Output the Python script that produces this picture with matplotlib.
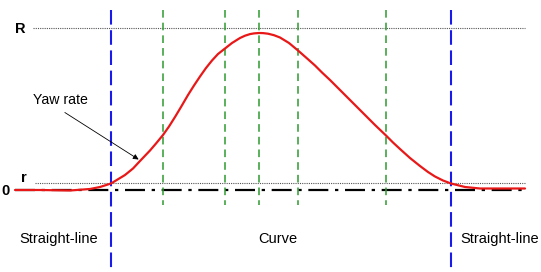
import numpy as np
import matplotlib
matplotlib.use('Agg')
import matplotlib.pyplot as plt

plt.rcParams['font.family'] = ['Liberation Sans', 'DejaVu Sans']

# yaw rate curve (time, yaw rate)
temps = [15, 40, 70, 90, 100, 111, 125, 133, 140, 150, 156, 163, 169, 175, 181,
         188, 194, 200, 206, 212, 218, 225, 232, 240, 245, 250, 254, 259, 263,
         268, 274, 280, 289, 298, 306, 315, 322, 330, 338, 345, 352, 360, 367,
         375, 386, 393, 400, 410, 420, 428, 435, 443, 451, 465, 480, 500, 525]
yaw = [0, 0, -0.5, 1, 3, 6.5, 15, 21.5, 29, 39.5, 46.5, 55, 63.5, 73, 83,
       95, 104.5, 113.5, 122, 129.5, 136, 141.5, 147, 152, 154.3, 155.9, 156.6, 157, 156.9,
       156.3, 154.8, 152.5, 147, 139.5, 132.5, 124.5, 117.5, 110, 102, 95, 88, 80, 73,
       65, 54.5, 47.5, 41, 32, 24, 18, 13.5, 9.5, 6.5, 3, 1.5, 1.5, 1.5]

limits_fase = [111, 451]                 # straight-line / curve boundaries
marques = [163, 225, 259, 298, 386]      # green markers inside the curve
nivell_R = 162
nivell_r = 7
fases = ['Straight-line', 'Curve', 'Straight-line']
fases_x = [59, 278, 500]

fig = plt.figure(figsize=(5.41, 2.72), dpi=100)
ax = fig.add_axes([0, 0, 1, 1])
ax.set_xlim(0, 541)
ax.set_ylim(-82, 190)
ax.axis('off')

# reference levels
ax.plot([33, 525], [nivell_R, nivell_R], color='#555555', lw=0.8, ls=(0, (1, 1)))
ax.plot([35, 525], [nivell_r, nivell_r], color='#555555', lw=0.8, ls=(0, (1, 1)))
ax.plot([15, 525], [0, 0], color='black', lw=1.6, ls=(0, (9, 3, 1.5, 3)))

# vertical markers
for xm in marques:
    ax.plot([xm, xm], [180, -15], color='#2e9a2e', lw=1.1, ls=(0, (5, 3.3)))
for xb in limits_fase:
    ax.plot([xb, xb], [180, -82], color='#1a1aeb', lw=1.5, ls=(0, (7, 2.7)))

ax.plot(temps, yaw, color='#e81818', lw=1.6, solid_joinstyle='round',
        solid_capstyle='round')

ax.text(20, 161, 'R', fontsize=10.5, fontweight='bold', ha='center', va='center')
ax.text(24, 12, 'r', fontsize=10.5, fontweight='bold', ha='center', va='center')
ax.text(5, -1, '0', fontsize=10.5, fontweight='bold', ha='center', va='center')

ax.annotate('', xy=(141, 29), xytext=(62.5, 79),
            arrowprops=dict(arrowstyle='-|>', color='black', lw=0.6,
                            mutation_scale=8))
ax.text(60.5, 90, 'Yaw rate', fontsize=10.2, ha='center', va='center')

for nom, xf in zip(fases, fases_x):
    ax.text(xf, -49, nom, fontsize=10.5, ha='center', va='center')

fig.savefig('out.png', dpi=100)
